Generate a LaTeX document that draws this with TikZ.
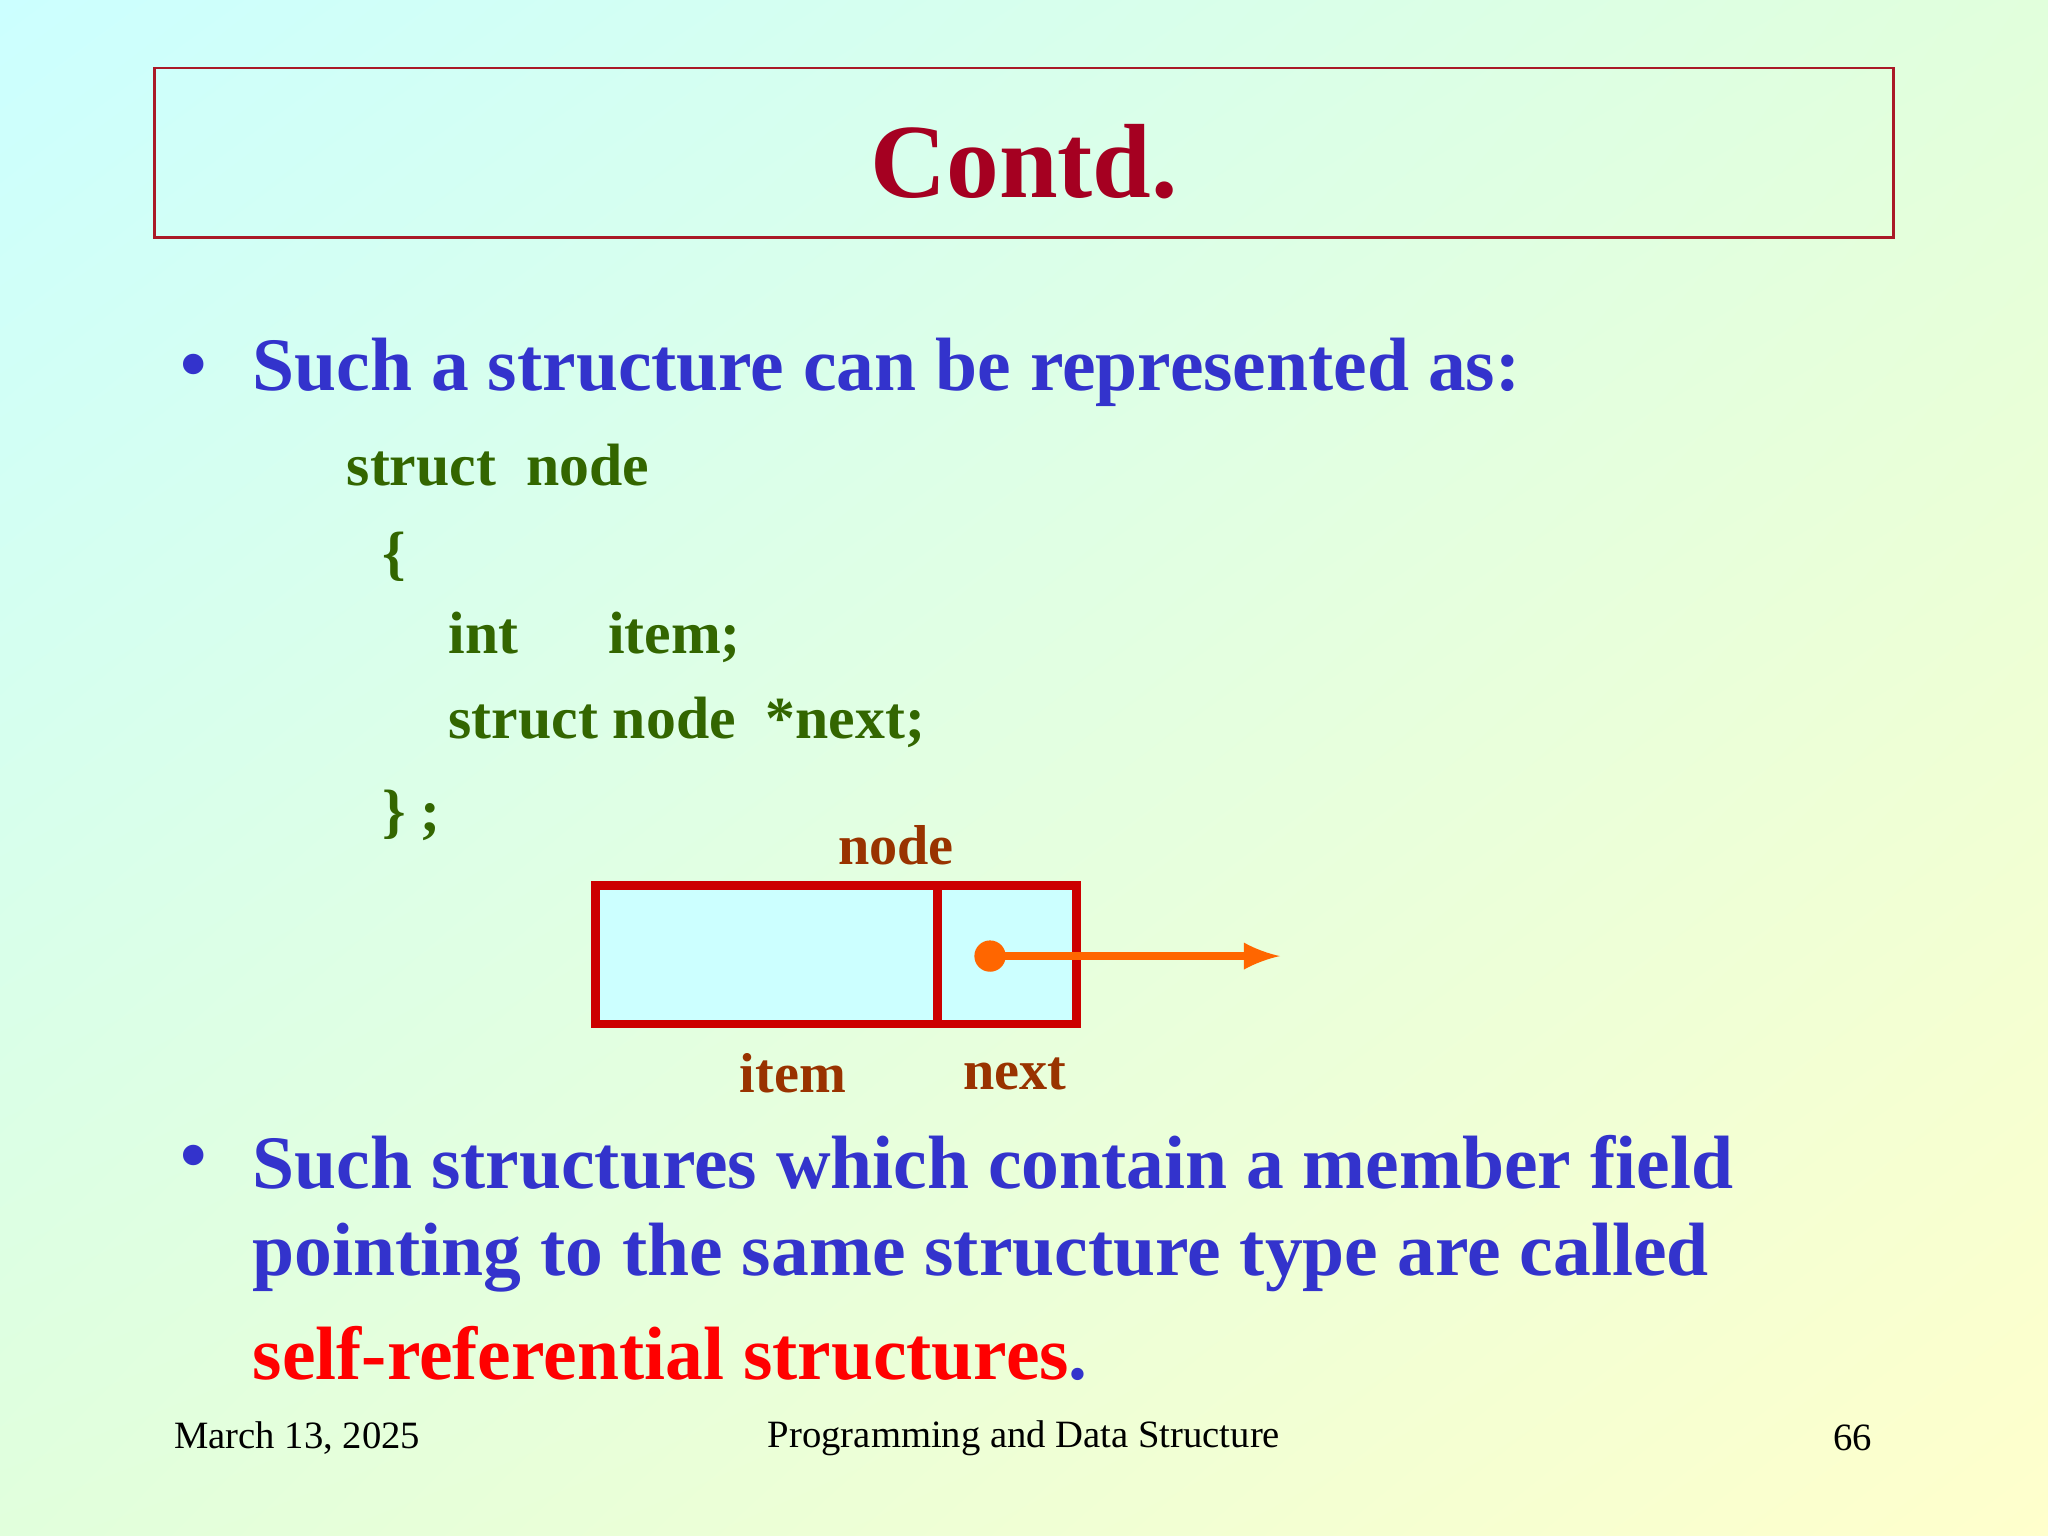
\documentclass[tikz,border=0pt]{standalone}
\usepackage{fontspec}
\setmainfont{Liberation Serif}
\usetikzlibrary{shadings}
\definecolor{titlered}{HTML}{A50021}
\definecolor{bulletblue}{HTML}{3333CC}
\definecolor{codegreen}{HTML}{336600}
\definecolor{labelbrown}{HTML}{993300}
\definecolor{boxred}{HTML}{CC0000}
\definecolor{ptrorange}{HTML}{FF6600}
\definecolor{bgcyan}{HTML}{CCFFFF}
\definecolor{bgmint}{HTML}{E1FFDC}
\definecolor{bgyellow}{HTML}{FFFFCC}
\definecolor{boxfill}{HTML}{CCFFFF}
\tikzset{
  bullet/.style={anchor=west,text=bulletblue,font=\fontsize{21.5}{28}\selectfont\bfseries,inner sep=0pt},
  code/.style={anchor=west,text=codegreen,font=\fontsize{17}{20}\selectfont\bfseries,inner sep=0pt},
  label/.style={text=labelbrown,font=\fontsize{16}{20}\selectfont\bfseries,inner sep=0pt},
  foot/.style={font=\fontsize{11}{13}\selectfont,inner sep=0pt}
}
\begin{document}
\begin{tikzpicture}[x=0.013061cm,y=-0.013061cm]
\useasboundingbox (0,0) rectangle (1568,1176);
\shade[upper left=bgcyan,upper right=bgmint,lower left=bgmint,lower right=bgyellow]
  (0,0) rectangle (1568,1176);
% title
\draw[titlered!80!brown,line width=0.8pt] (118,52) rectangle (1450,182);
\node[text=titlered,font=\fontsize{30}{36}\selectfont\bfseries] (title) at (784,124) {Contd.};
% first bullet and code
\node[bullet] (b1) at (138,285) {\textbullet};
\node[bullet] (t1) at (193,285) {Such a structure can be represented as:};
\node[code] (c1) at (265,356) {struct\ \ node};
\node[code] (c2) at (292,426) {\{};
\node[code] (c3) at (343,488) {int\hspace{1.5em}item;};
\node[code] (c4) at (343,553) {struct node\ \ *next;};
\node[code] (c5) at (292,624) {\} ;};
% node picture
\node[label] (lnode) at (686,647) {node};
\draw[boxred,line width=2.5pt,fill=boxfill] (456,678) rectangle (824,784);
\draw[boxred,line width=2.5pt] (718,678) -- (718,784);
\coordinate (dot) at (758,732);
\coordinate (tip) at (980,732);
\fill[ptrorange] (dot) circle (12);
\draw[ptrorange,line width=2.5pt,-latex] (dot) -- (tip);
\node[label] (litem) at (607,822) {item};
\node[label] (lnext) at (777,822) {next};
% second bullet
\node[bullet] (b2) at (138,890) {\textbullet};
\node[bullet] (t2) at (193,890) {Such structures which contain a member field};
\node[bullet] (t3) at (193,963) {pointing to the same structure type are called};
\node[bullet] (t4) at (193,1036) {\textcolor{red}{self-referential structures}.};
% footer
\node[foot,anchor=west] (date) at (133,1101) {March 13, 2025};
\node[foot] (course) at (784,1101) {Programming and Data Structure};
\node[foot,anchor=east] (page) at (1434,1101) {66};
\end{tikzpicture}
\end{document}
